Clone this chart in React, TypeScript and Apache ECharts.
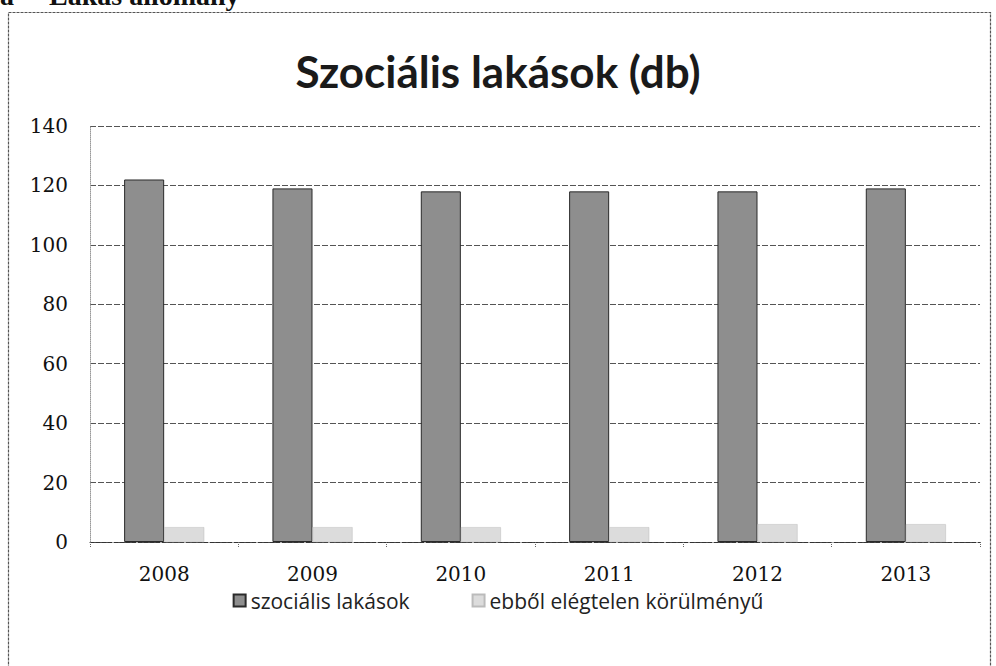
import React, { useEffect, useRef } from "react";
import * as echarts from "echarts";

const years = ["2008", "2009", "2010", "2011", "2012", "2013"];
const socialFlats = [122, 119, 118, 118, 118, 119];
const substandard = [5, 5, 5, 5, 6, 6];
const seriesNames = ["szociális lakások", "ebből elégtelen körülményű"];
const titleText = "Szociális lakások (db)";
const headingText = "a     Lakás állomány";

export default function App() {
  const ref = useRef<HTMLDivElement>(null);
  useEffect(() => {
    if (!ref.current) return;
    const chart = echarts.init(ref.current, null, { renderer: "svg" });
    chart.setOption({
      animation: false,
      backgroundColor: "#ffffff",
      title: {
        text: titleText,
        left: "center",
        top: 44,
        textStyle: {
          fontFamily: "Lato",
          fontSize: 44,
          fontWeight: "bold",
          color: "#1a1a1a",
        },
      },
      graphic: [
        {
          type: "rect",
          shape: { x: 8.5, y: 12.5, width: 982, height: 660 },
          style: { fill: "none", stroke: "#555", lineWidth: 1.2, lineDash: [3, 1] },
          silent: true,
        },
        {
          type: "text",
          left: 0,
          top: -19,
          style: {
            text: headingText,
            fontFamily: "Liberation Serif",
            fontWeight: "bold",
            fontSize: 28,
            fill: "#111",
          },
        },
      ],
      legend: {
        bottom: 50,
        left: "center",
        itemGap: 62,
        itemWidth: 12,
        itemHeight: 12,
        icon: "rect",
        textStyle: { fontFamily: "Open Sans", fontSize: 21, color: "#222" },
        data: seriesNames,
      },
      grid: { left: 90, right: 16, top: 126, bottom: 124 },
      xAxis: {
        type: "category",
        data: years,
        axisLine: { lineStyle: { color: "#333", width: 1, type: "dashed" } },
        axisTick: { show: true, length: 6, interval: 0, lineStyle: { color: "#666", type: "dotted" } },
        axisLabel: {
          margin: 22,
          fontFamily: "DejaVu Serif",
          fontSize: 20,
          color: "#111",
        },
      },
      yAxis: {
        type: "value",
        min: 0,
        max: 140,
        interval: 20,
        axisLine: { show: true, lineStyle: { color: "#999", type: "dotted" } },
        axisTick: { show: false },
        axisLabel: {
          margin: 22,
          fontFamily: "DejaVu Serif",
          fontSize: 20,
          color: "#111",
        },
        splitLine: { lineStyle: { color: "#555", width: 1, type: [6, 2] } },
      },
      series: [
        {
          name: seriesNames[0],
          type: "bar",
          data: socialFlats,
          barGap: "0%",
          barCategoryGap: "46%",
          itemStyle: { color: "#8e8e8e", borderColor: "#2a2a2a", borderWidth: 1 },
        },
        {
          name: seriesNames[1],
          type: "bar",
          data: substandard,
          itemStyle: { color: "#dcdcdc", borderColor: "#bbbbbb", borderWidth: 0.5 },
        },
      ],
    });
    return () => chart.dispose();
  }, []);
  return (
    <div
      ref={ref}
      style={{ position: "absolute", left: 0, top: 0, width: 996, height: 666 }}
    />
  );
}
